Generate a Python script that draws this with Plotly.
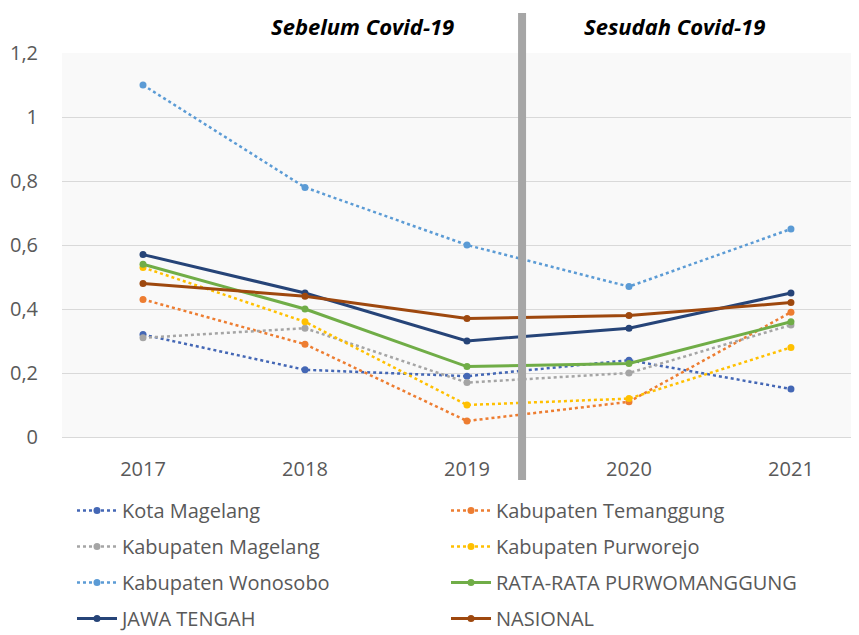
import plotly.graph_objects as go

years = ["2017", "2018", "2019", "2020", "2021"]
kota_magelang = [0.32, 0.21, 0.19, 0.24, 0.15]
kab_temanggung = [0.43, 0.29, 0.05, 0.11, 0.39]
kab_magelang = [0.31, 0.34, 0.17, 0.20, 0.35]
kab_purworejo = [0.53, 0.36, 0.10, 0.12, 0.28]
kab_wonosobo = [1.10, 0.78, 0.60, 0.47, 0.65]
rata_rata = [0.54, 0.40, 0.22, 0.23, 0.36]
jawa_tengah = [0.57, 0.45, 0.30, 0.34, 0.45]
nasional = [0.48, 0.44, 0.37, 0.38, 0.42]

series = [
    ("Kota Magelang", kota_magelang, "#4467B5", "dot", "legend"),
    ("Kabupaten Temanggung", kab_temanggung, "#ED7D31", "dot", "legend2"),
    ("Kabupaten Magelang", kab_magelang, "#A5A5A5", "dot", "legend"),
    ("Kabupaten Purworejo", kab_purworejo, "#FFC000", "dot", "legend2"),
    ("Kabupaten Wonosobo", kab_wonosobo, "#5B9BD5", "dot", "legend"),
    ("RATA-RATA PURWOMANGGUNG", rata_rata, "#70AD47", "solid", "legend2"),
    ("JAWA TENGAH", jawa_tengah, "#264478", "solid", "legend"),
    ("NASIONAL", nasional, "#9E480E", "solid", "legend2"),
]

fig = go.Figure()
for i, (name, vals, color, dash, lg) in enumerate(series):
    fig.add_trace(go.Scatter(
        x=years, y=vals, name=name, mode="lines+markers",
        line=dict(color=color, width=2.5 if dash == "dot" else 3, dash=dash),
        marker=dict(color=color, size=7, symbol="circle"),
        legend=lg, legendgroup=name,
    ))

font_family = "Open Sans, Noto Sans, sans-serif"
legend_common = dict(
    orientation="v", yanchor="top", y=0.2296, yref="container", xref="container",
    font=dict(family=font_family, size=20, color="#595959"),
    bgcolor="rgba(0,0,0,0)", tracegroupgap=7, itemwidth=40,
    traceorder="grouped",
)

fig.update_layout(
    width=851, height=627,
    margin=dict(l=54, r=0, t=45, b=198, autoexpand=False),
    paper_bgcolor="white", plot_bgcolor="#F9F9F9",
    separators=",.",
    font=dict(family=font_family, size=20, color="#595959"),
    xaxis=dict(type="category", range=[-0.5, 4.42], showgrid=False,
               showline=False, ticks="", tickfont=dict(size=20, color="#595959"),
               ticklabelstandoff=18, automargin=False),
    yaxis=dict(range=[0, 1.2], dtick=0.2, showgrid=True, gridcolor="#D9D9D9",
               gridwidth=1, zeroline=True, zerolinecolor="#D9D9D9", zerolinewidth=1,
               showline=False, ticks="", tickfont=dict(size=20, color="#595959"),
               ticklabelstandoff=23, automargin=False),
    legend=dict(x=0.0752, xanchor="left", **legend_common),
    legend2=dict(x=0.5147, xanchor="left", **legend_common),
    shapes=[dict(type="line", xref="x", yref="paper", x0=2.34, x1=2.34,
                 y0=-0.112, y1=1.104, line=dict(color="#A6A6A6", width=8))],
    annotations=[
        dict(text="<b><i>Sebelum Covid-19</i></b>", x=1.355, y=1.0703, xref="x", yref="paper",
             xanchor="center", yanchor="middle", showarrow=False,
             font=dict(family=font_family, size=22, color="#000000")),
        dict(text="<b><i>Sesudah Covid-19</i></b>", x=3.28, y=1.0703, xref="x", yref="paper",
             xanchor="center", yanchor="middle", showarrow=False,
             font=dict(family=font_family, size=22, color="#000000")),
    ],
)

fig.write_html("out.html")
